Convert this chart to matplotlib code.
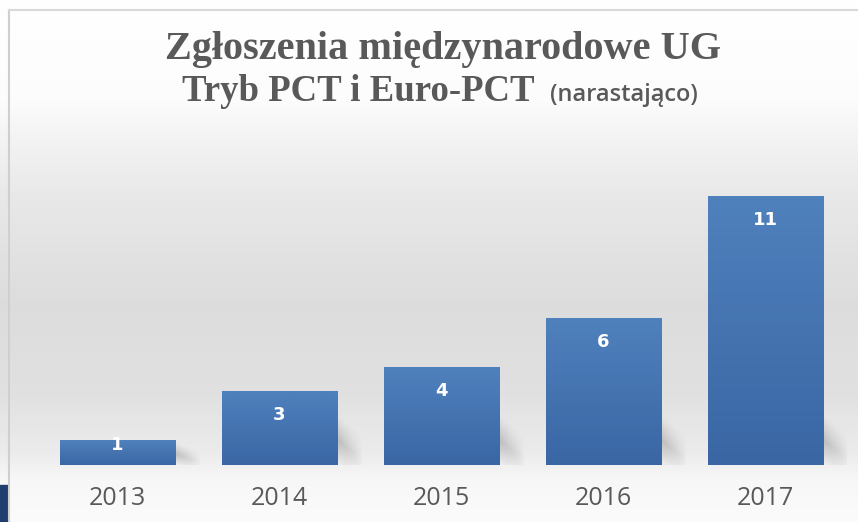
import numpy as np
import matplotlib
matplotlib.use("Agg")
import matplotlib.pyplot as plt
from matplotlib.patches import Rectangle

years = ["2013", "2014", "2015", "2016", "2017"]
values = [1, 3, 4, 6, 11]
title_line1 = "Zgłoszenia międzynarodowe UG"
title_line2 = "Tryb PCT i Euro-PCT"
title_suffix = "(narastająco)"

W, H = 858, 522
fig = plt.figure(figsize=(W / 100, H / 100), dpi=100)

# background gradient
bg = fig.add_axes([0, 0, 1, 1])
ys = np.linspace(0, 1, 522)  # 0 = top
pts_t = [0.0, 0.19, 0.25, 0.38, 0.58, 0.75, 0.87, 0.92, 1.0]
pts_v = [1.0, 0.99, 0.96, 0.91, 0.865, 0.88, 0.925, 0.97, 0.985]
col = np.interp(ys, pts_t, pts_v)[:, None] * np.ones((1, 10))
img = np.dstack([col, col, col])
bg.imshow(img, aspect="auto", extent=[0, 1, 0, 1], origin="upper")
bg.set_xlim(0, 1); bg.set_ylim(0, 1)
bg.axis("off")
bg.plot([9 / W, 9 / W], [0, 1 - 10 / H], color="#cfcfcf", lw=1.5)
bg.plot([9 / W, 1], [1 - 10 / H, 1 - 10 / H], color="#d8d8d8", lw=1.5)
bg.add_patch(Rectangle((0, 0), 8 / W, 37 / H, color="#1f3e70"))

# plot axes
left, right = 36.5 / W, 846.5 / W
bottom, top = (H - 465) / H, (H - 130) / H
ax = fig.add_axes([left, bottom, right - left, top - bottom])
ax.set_facecolor("none")
px_per_unit = 24.4
ymax = (465 - 130) / px_per_unit
ax.set_ylim(0, ymax)
ax.set_xlim(-0.5, len(years) - 0.5)
x = np.arange(len(years))
bar_w = 0.71
bars = ax.bar(x, values, width=bar_w, color="#4673b0", zorder=3)

unit_x = (right - left) * W / len(years)  # px per x unit
shadow_w = 26 / unit_x
for b in bars:
    bx, by = b.get_x(), b.get_y()
    bw, bh = b.get_width(), b.get_height()
    grad = np.linspace(0, 1, 100)[:, None]
    c_top = np.array([0x4f, 0x81, 0xbd]) / 255
    c_bot = np.array([0x3a, 0x66, 0xa4]) / 255
    g = c_top[None, None, :] * (1 - grad[..., None]) + c_bot[None, None, :] * grad[..., None]
    g = np.repeat(g, 4, axis=1)
    ax.imshow(g, extent=[bx, bx + bw, by, by + bh], origin="upper", aspect="auto", zorder=4)
    # soft slanted shadow to the right, lower part
    sh_h = min(bh, 55 / px_per_unit)
    ny, nx = 60, 40
    yy = np.linspace(1, 0, ny)[:, None]      # 1 at top of shadow image
    xx = np.linspace(0, 1, nx)[None, :]
    band = np.clip(1 - np.abs((1 - yy) - 0.55 - 0.35 * xx) / 0.45, 0, 1)
    a = 0.42 * band * (1 - xx) ** 0.8
    rgba = np.zeros((ny, nx, 4))
    rgba[..., :3] = 0.5
    rgba[..., 3] = a
    ax.imshow(rgba, extent=[bx + bw, bx + bw + shadow_w, 0, sh_h], origin="upper",
              aspect="auto", zorder=2, interpolation="bilinear")

for xi, v in zip(x, values):
    ax.text(xi, max(v - 0.95, 0.82), str(v), ha="center", va="center", color="white",
            fontsize=13, fontweight="bold", family="DejaVu Sans", zorder=5)
ax.set_xticks(x)
ax.set_xticklabels(years, fontsize=18, color="#595959", family="Open Sans")
ax.tick_params(axis="x", length=0, pad=15)
ax.set_yticks([])
for s in ax.spines.values():
    s.set_visible(False)
ax.set_xlim(-0.5, len(years) - 0.5)
ax.set_ylim(0, ymax)

# titles
fig.text(443 / W, 1 - 50 / H, title_line1, ha="center", va="center", fontsize=29,
         fontweight="bold", color="#595959", family="Liberation Serif")
fig.text(534 / W, 1 - 101 / H, title_line2, ha="right", va="baseline", fontsize=26.5,
         fontweight="bold", color="#595959", family="Liberation Serif")
fig.text(550 / W, 1 - 101 / H, title_suffix, ha="left", va="baseline", fontsize=17,
         fontweight="semibold", color="#595959", family="Open Sans")

fig.savefig("out.png", dpi=100)
